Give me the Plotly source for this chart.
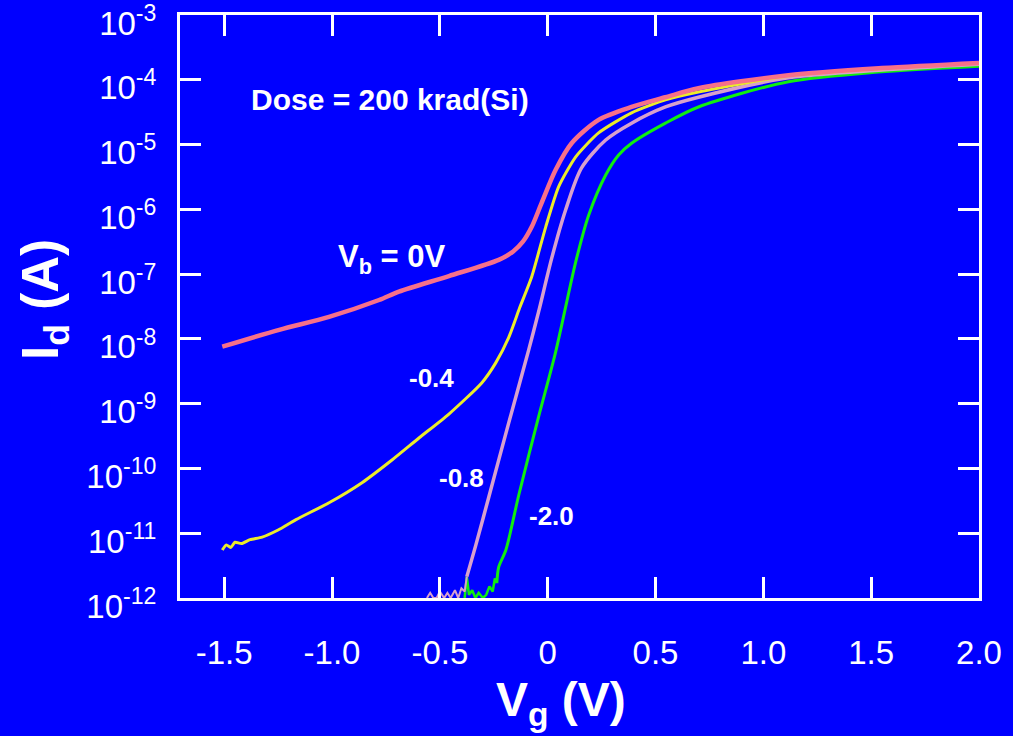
import plotly.graph_objects as go

# ---- data (Vg in V, log10 of Id in A) ----
vg_vb0 = [-1.509, -1.245, -1.014, -0.782, -0.69, -0.458, -0.227, -0.160, -0.115, -0.074,
          -0.028, 0.037, 0.111, 0.236, 0.389, 0.546, 0.699, 1.116, 1.55, 2.0]
logid_vb0 = [-8.12, -7.86, -7.66, -7.40, -7.27, -7.03, -6.78, -6.65, -6.50, -6.27,
             -5.90, -5.39, -4.98, -4.62, -4.42, -4.27, -4.13, -3.93, -3.82, -3.74]

vg_vb04 = [-1.509, -1.49, -1.47, -1.45, -1.42, -1.38, -1.324, -1.25, -1.167, -1.014,
           -0.861, -0.722, -0.597, -0.458, -0.306, -0.241, -0.181, -0.130, -0.074, -0.009,
           0.051, 0.130, 0.236, 0.389, 0.546, 0.699, 1.116, 1.55, 2.0]
logid_vb04 = [-11.26, -11.18, -11.22, -11.14, -11.16, -11.10, -11.06, -10.95, -10.79, -10.53,
              -10.22, -9.87, -9.53, -9.16, -8.68, -8.37, -7.98, -7.52, -7.04, -6.27,
              -5.65, -5.19, -4.82, -4.51, -4.31, -4.19, -3.94, -3.83, -3.74]

vg_vb08 = [-0.375, -0.333, -0.273, -0.181, -0.088, -0.042, 0.019, 0.083, 0.157,
           0.269, 0.389, 0.546, 0.699, 1.116, 1.55, 2.0]
logid_vb08 = [-11.67, -11.18, -10.44, -9.30, -8.17, -7.58, -6.75, -6.01, -5.36,
              -4.93, -4.67, -4.42, -4.27, -3.97, -3.85, -3.76]
vg_vb08_floor = [-0.56, -0.545, -0.53, -0.515, -0.50, -0.48, -0.465, -0.45, -0.43, -0.415,
                 -0.40, -0.385, -0.375]
logid_vb08_floor = [-12.0, -11.92, -12.0, -12.0, -11.9, -12.0, -11.92, -12.0, -11.88, -12.0,
                    -11.85, -11.9, -11.67]

vg_vb20 = [-0.236, -0.227, -0.194, -0.134, -0.042, 0.037, 0.130, 0.190, 0.269, 0.329,
           0.389, 0.546, 0.699, 1.116, 1.532, 2.0]
logid_vb20 = [-11.77, -11.52, -11.26, -10.41, -9.20, -8.20, -6.81, -6.09, -5.47, -5.16,
              -4.98, -4.67, -4.42, -4.03, -3.88, -3.79]
vg_vb20_floor = [-0.385, -0.375, -0.365, -0.35, -0.335, -0.32, -0.30, -0.285, -0.27, -0.255,
                 -0.245, -0.236]
logid_vb20_floor = [-12.0, -11.67, -11.95, -11.88, -12.0, -11.92, -12.0, -11.95, -11.82, -11.9,
                    -11.7, -11.77]

x_ticks = [-1.5, -1.0, -0.5, 0, 0.5, 1.0, 1.5, 2.0]
x_ticktext = ["-1.5", "-1.0", "-0.5", "0", "0.5", "1.0", "1.5", "2.0"]
y_exps = [-12, -11, -10, -9, -8, -7, -6, -5, -4, -3]

labels = [
    ("Dose = 200 krad(Si)", -0.731, -4.31, 30),
    ("V<sub>b</sub> = 0V", -0.72, -6.76, 31),
    ("-0.4", -0.537, -8.60, 26),
    ("-0.8", -0.398, -10.14, 26),
    ("-2.0", 0.019, -10.73, 26),
]

c_pink = "#F7708A"
c_yel = "#ECEC2A"
c_lav = "#D8A0CC"
c_grn = "#10EE10"
bg = "#0000FF"


def amps(logs):
    return [10 ** v for v in logs]


fig = go.Figure()
fig.add_trace(go.Scatter(x=vg_vb20_floor, y=amps(logid_vb20_floor), mode="lines",
                         line=dict(color=c_grn, width=2.5), hoverinfo="skip"))
fig.add_trace(go.Scatter(x=vg_vb20, y=amps(logid_vb20), mode="lines",
                         line=dict(color=c_grn, width=3, shape="spline", smoothing=0.8)))
fig.add_trace(go.Scatter(x=vg_vb08_floor, y=amps(logid_vb08_floor), mode="lines",
                         line=dict(color=c_lav, width=2), hoverinfo="skip"))
fig.add_trace(go.Scatter(x=vg_vb08, y=amps(logid_vb08), mode="lines",
                         line=dict(color=c_lav, width=3.5, shape="spline", smoothing=0.8)))
fig.add_trace(go.Scatter(x=vg_vb04, y=amps(logid_vb04), mode="lines",
                         line=dict(color=c_yel, width=3, shape="spline", smoothing=0.6)))
fig.add_trace(go.Scatter(x=vg_vb0, y=amps(logid_vb0), mode="lines",
                         line=dict(color=c_pink, width=4.5, shape="spline", smoothing=0.8)))

for txt, xv, yv, fs in labels:
    fig.add_annotation(x=xv, y=yv, xref="x", yref="y", text="<b>" + txt + "</b>",
                       showarrow=False, xanchor="center", yanchor="middle",
                       font=dict(size=fs, color="white"))

# axis titles
fig.add_annotation(x=(561 - 180) / 799, y=(598 - 703) / 583, xref="paper", yref="paper",
                   text="<b>V<sub>g</sub> (V)</b>", showarrow=False,
                   xanchor="center", yanchor="middle",
                   font=dict(size=48, color="white"))
fig.add_annotation(x=(44 - 180) / 799, y=(598 - 300) / 583, xref="paper", yref="paper",
                   text="<b>I<sub>d</sub> (A)</b>", showarrow=False, textangle=-90,
                   xanchor="center", yanchor="middle",
                   font=dict(size=51, color="white"))

axis_common = dict(showline=True, linecolor="white", linewidth=3, mirror="ticks",
                   ticks="inside", ticklen=21, tickwidth=3, tickcolor="white",
                   showgrid=False, zeroline=False, ticklabeloverflow="allow",
                   automargin=False,
                   tickfont=dict(size=33, color="white"))

fig.update_xaxes(range=[-1.705, 2.0], tickvals=x_ticks, ticktext=x_ticktext,
                 ticklabelstandoff=23, **axis_common)
fig.update_yaxes(type="log", range=[-12, -3],
                 tickvals=[10 ** e for e in y_exps],
                 ticktext=["10<sup>%d</sup>" % e for e in y_exps],
                 ticklabelstandoff=14, ticklabelshift=8, **axis_common)

fig.update_layout(width=1013, height=736, paper_bgcolor=bg, plot_bgcolor=bg,
                  showlegend=False,
                  margin=dict(l=180, r=34, t=15, b=138, autoexpand=False),
                  font=dict(family="Liberation Sans, Arial, sans-serif", color="white"))

fig.write_html("out.html")
